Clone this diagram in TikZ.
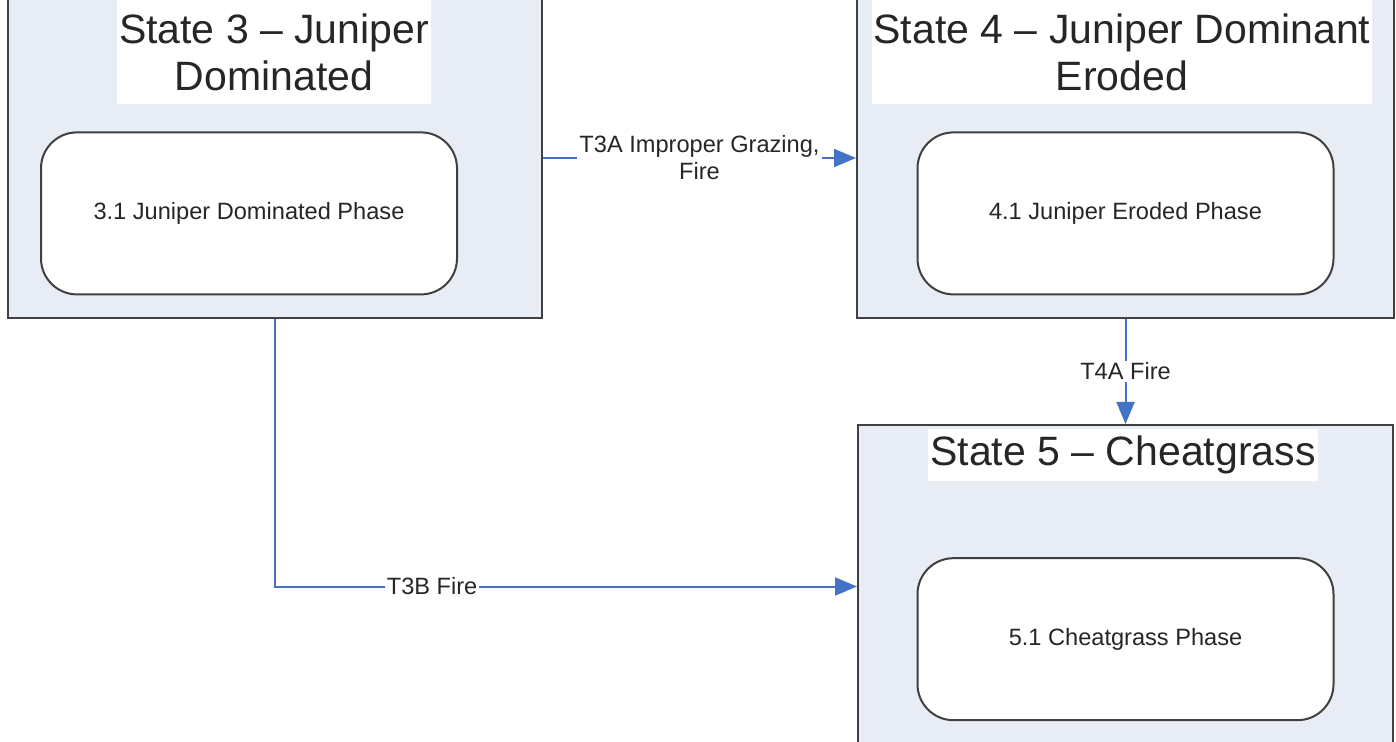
\documentclass[tikz,border=0pt]{standalone}
\usepackage{fontspec}
\setmainfont{Liberation Sans}
\usepackage{tikz}
\usetikzlibrary{arrows.meta,positioning}

\definecolor{boxfill}{RGB}{232,236,244}
\definecolor{boxline}{RGB}{64,64,64}
\definecolor{arrowblue}{RGB}{68,114,196}
\definecolor{textgray}{RGB}{38,38,38}

\begin{document}
\begin{tikzpicture}[
      x=0.5pt, y=-0.5pt,
      state_box/.style={
         rectangle,
         draw=boxline,
         fill=boxfill,
         line width=1pt,
         minimum width=267pt,
         minimum height=179pt},
      title_band/.style={
         rectangle,
         fill=white,
         text=textgray,
         align=center,
         inner xsep=1pt,
         font=\fontsize{20.5}{23.5}\selectfont},
      phase_node/.style={
         rectangle,
         rounded corners=18pt,
         draw=boxline,
         fill=white,
         line width=1pt,
         minimum width=208pt,
         minimum height=81pt,
         text=textgray,
         font=\fontsize{11.8}{14}\selectfont},
      arrow_blue/.style={
         -{Triangle[length=11pt,width=9pt]},
         draw=arrowblue,
         line width=1pt},
      trans_label/.style={
         fill=white,
         text=textgray,
         align=center,
         inner sep=1pt,
         font=\fontsize{11.8}{13.5}\selectfont}
]
      \useasboundingbox (0,0) rectangle (1396,742);
      \clip (0,0) rectangle (1396,742);

      %states
      \node[state_box] (s3) at (275,139) {};
      \node[state_box,minimum width=268.5pt,right=156.5pt of s3] (s4) {};
      \node[state_box,minimum width=267.5pt,below=52.5pt of s4] (s5) {};

      %titles
      \node[title_band,minimum width=157pt,minimum height=52pt] (t3) at (274,52)
         {State 3 -- Juniper\\Dominated};
      \node[title_band,minimum width=250pt,minimum height=52pt] (t4) at (1122,52)
         {State 4 -- Juniper Dominant\\Eroded};
      \node[title_band,minimum width=193.5pt,minimum height=25pt] (t5) at (1123,455)
         {State 5 -- Cheatgrass};

      %phases
      \node[phase_node,below=13.5pt of t3,xshift=-12.5pt] (p3) {3.1 Juniper Dominated Phase};
      \node[phase_node,below=13.5pt of t4,xshift=1.75pt] (p4) {4.1 Juniper Eroded Phase};
      \node[phase_node,below=38pt of t5,xshift=1.25pt] (p5) {5.1 Cheatgrass Phase};

      %transitions
      \draw [arrow_blue] ([yshift=-9.5pt]s3.east) -- node[trans_label] {T3A Improper Grazing,\\Fire} ([yshift=-9.5pt]s4.west);
      \draw [arrow_blue] (s4.south) -- node[trans_label] {T4A Fire} (s4.south |- s5.north);
      \draw [arrow_blue] (s3.south) |- node[trans_label,pos=0.635] {T3B Fire} ([yshift=8.75pt]s5.west);

\end{tikzpicture}
\end{document}
